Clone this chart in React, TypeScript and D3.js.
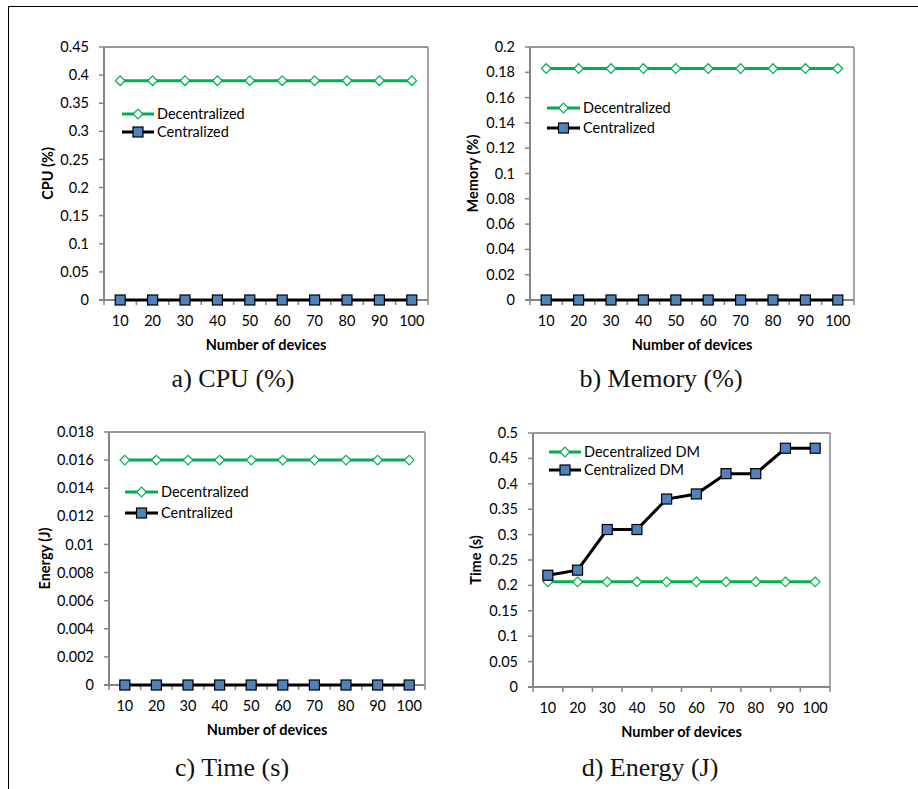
import React from "react";
import * as d3 from "d3";

const categories = ["10", "20", "30", "40", "50", "60", "70", "80", "90", "100"];

const cpuDecentralized = [0.39, 0.39, 0.39, 0.39, 0.39, 0.39, 0.39, 0.39, 0.39, 0.39];
const cpuCentralized = [0, 0, 0, 0, 0, 0, 0, 0, 0, 0];
const cpuTicks = [0, 0.05, 0.1, 0.15, 0.2, 0.25, 0.3, 0.35, 0.4, 0.45];

const memDecentralized = [0.183, 0.183, 0.183, 0.183, 0.183, 0.183, 0.183, 0.183, 0.183, 0.183];
const memCentralized = [0, 0, 0, 0, 0, 0, 0, 0, 0, 0];
const memTicks = [0, 0.02, 0.04, 0.06, 0.08, 0.1, 0.12, 0.14, 0.16, 0.18, 0.2];

const energyDecentralized = [0.016, 0.016, 0.016, 0.016, 0.016, 0.016, 0.016, 0.016, 0.016, 0.016];
const energyCentralized = [0, 0, 0, 0, 0, 0, 0, 0, 0, 0];
const energyTicks = [0, 0.002, 0.004, 0.006, 0.008, 0.01, 0.012, 0.014, 0.016, 0.018];

const timeDecentralized = [0.207, 0.207, 0.207, 0.207, 0.207, 0.207, 0.207, 0.207, 0.207, 0.207];
const timeCentralized = [0.22, 0.23, 0.31, 0.31, 0.37, 0.38, 0.42, 0.42, 0.47, 0.47];
const timeTicks = [0, 0.05, 0.1, 0.15, 0.2, 0.25, 0.3, 0.35, 0.4, 0.45, 0.5];

const FONT = "Lato, 'Open Sans', sans-serif";
const FS = 14.5;
const GREEN = "#00B050";
const BLUE = "#4F81BD";

type PanelProps = {
  left: number; right: number; top: number; bottom: number;
  ticks: number[]; yMax: number;
  dec: number[]; cen: number[];
  decLabel: string; cenLabel: string;
  yTitle: string; yTitleX: number;
  tickLabelRight: number;
  xLabelY: number; xTitleY: number;
  caption: string; captionX: number; captionY: number;
  legendX0: number; legendX1: number; legendY0: number; legendY1: number;
};

function Panel(p: PanelProps) {
  const x = d3.scaleBand<string>().domain(categories).range([p.left, p.right]).padding(0);
  const y = d3.scaleLinear().domain([0, p.yMax]).range([p.bottom, p.top]);
  const cx = (c: string) => (x(c) as number) + x.bandwidth() / 2;
  const line = d3.line<number>().x((_, i) => cx(categories[i])).y((v) => y(v));
  const boundaries = categories.map((c) => x(c) as number).concat([p.right]);
  const legMid = (p.legendX0 + p.legendX1) / 2;
  const diamond = (px: number, py: number, r: number) =>
    `M${px},${py - r}L${px + r},${py}L${px},${py + r}L${px - r},${py}Z`;
  const fmt = (v: number) => String(+v.toFixed(4));
  return (
    <g>
      <line x1={p.left} x2={p.right} y1={p.top} y2={p.top} stroke="#333" strokeWidth={1} />
      <line x1={p.right} x2={p.right} y1={p.top} y2={p.bottom} stroke="#868686" strokeWidth={1.5} />
      <line x1={p.left} x2={p.left} y1={p.top} y2={p.bottom} stroke="#868686" strokeWidth={2} />
      {p.ticks.map((t) => (
        <g key={t}>
          <line x1={p.left - 5} x2={p.left} y1={y(t)} y2={y(t)} stroke="#868686" strokeWidth={1.5} />
          <text x={p.tickLabelRight} y={y(t)} dy="0.35em" textAnchor="end" fontFamily={FONT} fontSize={FS} fill="#000">
            {fmt(t)}
          </text>
        </g>
      ))}
      <line x1={p.left - 5} x2={p.right} y1={p.bottom} y2={p.bottom} stroke="#868686" strokeWidth={2} />
      {boundaries.map((b, i) => (
        <line key={i} x1={b} x2={b} y1={p.bottom} y2={p.bottom + 5} stroke="#868686" strokeWidth={1.5} />
      ))}
      {categories.map((c) => (
        <text key={c} x={cx(c)} y={p.xLabelY} dy="0.35em" textAnchor="middle" fontFamily={FONT} fontSize={FS} fill="#000">
          {c}
        </text>
      ))}
      <text x={(p.left + p.right) / 2} y={p.xTitleY} dy="0.35em" textAnchor="middle" fontFamily={FONT} fontWeight="bold" fontSize={FS} fill="#000">
        Number of devices
      </text>
      <text transform={`translate(${p.yTitleX},${(p.top + p.bottom) / 2}) rotate(-90)`} dy="0.35em" textAnchor="middle" fontFamily={FONT} fontWeight="bold" fontSize={FS} fill="#000">
        {p.yTitle}
      </text>
      <path d={line(p.dec) as string} fill="none" stroke={GREEN} strokeWidth={3} />
      {p.dec.map((v, i) => (
        <path key={i} d={diamond(cx(categories[i]), y(v), 4.8)} fill="#fff" stroke={GREEN} strokeWidth={1.2} />
      ))}
      <path d={line(p.cen) as string} fill="none" stroke="#000" strokeWidth={3} />
      {p.cen.map((v, i) => (
        <rect key={i} x={cx(categories[i]) - 5} y={y(v) - 5} width={10} height={10} fill={BLUE} stroke="#000" strokeWidth={1.2} />
      ))}
      <line x1={p.legendX0} x2={p.legendX1} y1={p.legendY0} y2={p.legendY0} stroke={GREEN} strokeWidth={3} />
      <path d={diamond(legMid, p.legendY0, 4.8)} fill="#fff" stroke={GREEN} strokeWidth={1.2} />
      <text x={p.legendX1 + 3} y={p.legendY0} dy="0.35em" fontFamily={FONT} fontSize={FS} fill="#000">{p.decLabel}</text>
      <line x1={p.legendX0} x2={p.legendX1} y1={p.legendY1} y2={p.legendY1} stroke="#000" strokeWidth={3} />
      <rect x={legMid - 5} y={p.legendY1 - 5} width={10} height={10} fill={BLUE} stroke="#000" strokeWidth={1.2} />
      <text x={p.legendX1 + 3} y={p.legendY1} dy="0.35em" fontFamily={FONT} fontSize={FS} fill="#000">{p.cenLabel}</text>
      <text x={p.captionX} y={p.captionY} dy="0.35em" textAnchor="middle" fontFamily="'Liberation Serif', 'Times New Roman', serif" fontSize={26} fill="#111">
        {p.caption}
      </text>
    </g>
  );
}

export default function App() {
  return (
    <svg width={918} height={789} style={{ display: "block", position: "absolute", left: 0, top: 0 }}>
      <rect x={0} y={0} width={918} height={789} fill="#fff" />
      <line x1={8} x2={918} y1={6.5} y2={6.5} stroke="#000" strokeWidth={1} />
      <line x1={8.5} x2={8.5} y1={6} y2={789} stroke="#000" strokeWidth={1} />
      <Panel left={104} right={428} top={47} bottom={300} ticks={cpuTicks} yMax={0.45}
        dec={cpuDecentralized} cen={cpuCentralized} decLabel="Decentralized" cenLabel="Centralized"
        yTitle="CPU (%)" yTitleX={48} tickLabelRight={89} xLabelY={321} xTitleY={345}
        caption="a) CPU (%)" captionX={233} captionY={378}
        legendX0={122} legendX1={154} legendY0={114} legendY1={132} />
      <Panel left={530} right={854} top={47} bottom={300} ticks={memTicks} yMax={0.2}
        dec={memDecentralized} cen={memCentralized} decLabel="Decentralized" cenLabel="Centralized"
        yTitle="Memory (%)" yTitleX={473} tickLabelRight={515} xLabelY={321} xTitleY={345}
        caption="b) Memory (%)" captionX={661} captionY={378}
        legendX0={547} legendX1={580} legendY0={108} legendY1={128} />
      <Panel left={109} right={425} top={432} bottom={685} ticks={energyTicks} yMax={0.018}
        dec={energyDecentralized} cen={energyCentralized} decLabel="Decentralized" cenLabel="Centralized"
        yTitle="Energy (J)" yTitleX={45} tickLabelRight={94} xLabelY={706} xTitleY={730}
        caption="c) Time (s)" captionX={232} captionY={767}
        legendX0={125} legendX1={158} legendY0={492} legendY1={513} />
      <Panel left={533} right={830} top={433} bottom={687} ticks={timeTicks} yMax={0.5}
        dec={timeDecentralized} cen={timeCentralized} decLabel="Decentralized DM" cenLabel="Centralized DM"
        yTitle="Time (s)" yTitleX={476} tickLabelRight={518} xLabelY={708} xTitleY={732}
        caption="d) Energy (J)" captionX={650} captionY={767}
        legendX0={549} legendX1={581} legendY0={452} legendY1={470} />
    </svg>
  );
}
